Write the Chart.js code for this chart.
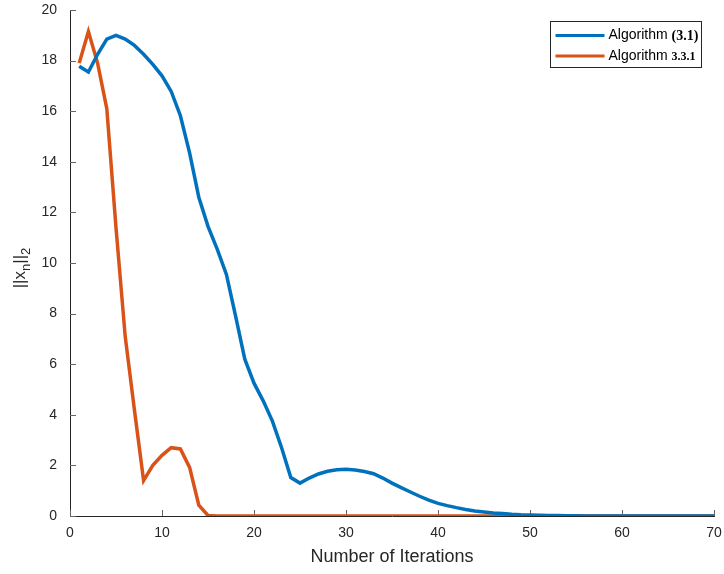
<!DOCTYPE html>
<html>
<head>
<meta charset="utf-8">
<script src="https://cdn.jsdelivr.net/npm/chart.js@4.4.0/dist/chart.umd.min.js"></script>
<style>
  html, body { margin: 0; padding: 0; background: #fff; }
</style>
</head>
<body>
<canvas id="chart" width="724" height="574"></canvas>
<script>
// iteration numbers (x axis)
const iterations = [1, 2, 3, 4, 5, 6, 7, 8, 9, 10, 11, 12, 13, 14, 15, 16, 17, 18, 19, 20,
    21, 22, 23, 24, 25, 26, 27, 28, 29, 30, 31, 32, 33, 34, 35, 36, 37, 38, 39, 40,
    41, 42, 43, 44, 45, 46, 47, 48, 49, 50, 51, 52, 53, 54, 55, 56, 57, 58, 59, 60,
    61, 62, 63, 64, 65, 66, 67, 68, 69, 70];

// ||x_n||_2 for Algorithm (3.1)
const alg31 = [17.78, 17.55, 18.25, 18.85, 19.0, 18.85, 18.6, 18.25, 17.85, 17.4,
    16.78, 15.82, 14.35, 12.6, 11.45, 10.55, 9.55, 7.9, 6.2, 5.25,
    4.55, 3.75, 2.7, 1.52, 1.3, 1.5, 1.66, 1.77, 1.83, 1.85,
    1.82, 1.76, 1.67, 1.5, 1.3, 1.12, 0.95, 0.78, 0.63, 0.5,
    0.41, 0.33, 0.26, 0.2, 0.16, 0.12, 0.1, 0.07, 0.05, 0.04,
    0.03, 0.02, 0.02, 0.01, 0.01, 0, 0, 0, 0, 0,
    0, 0, 0, 0, 0, 0, 0, 0, 0, 0];

// ||x_n||_2 for Algorithm 3.3.1
const alg331 = [17.9, 19.15, 17.9, 16.1, 11.4, 7.1, 4.2, 1.4, 2.0, 2.4,
    2.7, 2.65, 1.92, 0.43, 0.02, 0, 0, 0, 0, 0,
    0, 0, 0, 0, 0, 0, 0, 0, 0, 0,
    0, 0, 0, 0, 0, 0, 0, 0, 0, 0,
    0, 0, 0, 0, 0, 0, 0, 0, 0, 0,
    0, 0, 0, 0, 0, 0, 0, 0, 0, 0,
    0, 0, 0, 0, 0, 0, 0, 0, 0, 0];

const seriesNames = ['Algorithm ', 'Algorithm '];
const seriesTags = ['(3.1)', '3.3.1'];
const seriesColors = ['#0072BD', '#D95319'];

const xTicks = [0, 10, 20, 30, 40, 50, 60, 70];
const yTicks = [0, 2, 4, 6, 8, 10, 12, 14, 16, 18, 20];

const axisColor = '#262626';
const fontFamily = '"Liberation Sans", Arial, sans-serif';

// ticks pointing into the plot, like matlab
const inwardTicks = {
    id: 'inwardTicks',
    beforeDatasetsDraw(chart) {
        const ctx = chart.ctx;
        const area = chart.chartArea;
        const xs = chart.scales.x;
        const ys = chart.scales.y;
        ctx.save();
        ctx.strokeStyle = '#666';
        ctx.lineWidth = 1;
        ctx.beginPath();
        xTicks.forEach((v) => {
            const px = Math.round(xs.getPixelForValue(v)) + 0.5;
            ctx.moveTo(px, area.bottom);
            ctx.lineTo(px, area.bottom - 6);
        });
        yTicks.forEach((v) => {
            const py = Math.round(ys.getPixelForValue(v)) + 0.5;
            ctx.moveTo(area.left, py);
            ctx.lineTo(area.left + 6, py);
        });
        ctx.stroke();
        ctx.restore();
    }
};

// y title with subscripts and the legend with mixed fonts
const extras = {
    id: 'extras',
    afterDraw(chart) {
        const ctx = chart.ctx;

        // ||x_n||_2
        ctx.save();
        ctx.translate(20, 268);
        ctx.rotate(-Math.PI / 2);
        ctx.fillStyle = axisColor;
        ctx.textBaseline = 'middle';
        const parts = [
            { t: '||x', size: 17, dy: 0 },
            { t: 'n', size: 13, dy: 6 },
            { t: '||', size: 17, dy: 0 },
            { t: '2', size: 13, dy: 6 }
        ];
        let total = 0;
        parts.forEach((p) => {
            ctx.font = p.size + 'px ' + fontFamily;
            p.w = ctx.measureText(p.t).width;
            total += p.w;
        });
        let cx = -total / 2;
        parts.forEach((p) => {
            ctx.font = p.size + 'px ' + fontFamily;
            ctx.fillText(p.t, cx, p.dy);
            cx += p.w;
        });
        ctx.restore();

        // legend
        const box = { x: 550.5, y: 21.5, w: 151, h: 46 };
        ctx.save();
        ctx.fillStyle = '#fff';
        ctx.fillRect(box.x, box.y, box.w, box.h);
        ctx.strokeStyle = axisColor;
        ctx.lineWidth = 1;
        ctx.strokeRect(box.x, box.y, box.w, box.h);
        chart.data.datasets.forEach((ds, i) => {
            const y = box.y + 14 + i * 20.5;
            ctx.strokeStyle = ds.borderColor;
            ctx.lineWidth = 3;
            ctx.beginPath();
            ctx.moveTo(box.x + 5, y);
            ctx.lineTo(box.x + 54, y);
            ctx.stroke();
            ctx.fillStyle = '#000';
            ctx.textBaseline = 'middle';
            ctx.font = '14px ' + fontFamily;
            ctx.fillText(seriesNames[i], box.x + 58, y);
            const w = ctx.measureText(seriesNames[i]).width;
            ctx.font = 'bold ' + (i === 0 ? 14 : 12) + 'px "Liberation Serif", "Times New Roman", serif';
            ctx.fillText(seriesTags[i], box.x + 58 + w, y + 1);
        });
        ctx.restore();
    }
};

const ctx = document.getElementById('chart').getContext('2d');
const myChart = new Chart(ctx, {
    type: 'line',
    data: {
        labels: iterations,
        datasets: [{
            label: 'Algorithm (3.1)',
            data: alg31,
            borderColor: seriesColors[0],
            borderWidth: 3.5,
            pointRadius: 0,
            tension: 0,
            fill: false
        }, {
            label: 'Algorithm 3.3.1',
            data: alg331,
            borderColor: seriesColors[1],
            borderWidth: 3.5,
            pointRadius: 0,
            tension: 0,
            fill: false
        }]
    },
    options: {
        responsive: false,
        animation: false,
        layout: { padding: { top: 10, right: 10, left: 0, bottom: 0 } },
        plugins: {
            legend: { display: false },
            tooltip: { enabled: false }
        },
        scales: {
            x: {
                type: 'linear',
                min: 0,
                max: 70,
                afterBuildTicks: (scale) => { scale.ticks = xTicks.map((v) => ({ value: v })); },
                afterFit: (scale) => {
                    scale.height = 58;
                    scale.paddingLeft = 0;
                    scale.paddingRight = 0;
                },
                grid: { display: true, drawOnChartArea: false, drawTicks: false },
                border: { display: true, color: axisColor, width: 1 },
                ticks: { padding: 9, color: axisColor, font: { family: fontFamily, size: 14 }, maxRotation: 0 },
                title: {
                    display: true,
                    text: 'Number of Iterations',
                    color: axisColor,
                    font: { family: fontFamily, size: 18 },
                    padding: { top: 0, bottom: 6 }
                }
            },
            y: {
                min: 0,
                max: 20,
                afterBuildTicks: (scale) => { scale.ticks = yTicks.map((v) => ({ value: v })); },
                afterFit: (scale) => {
                    scale.width = 70;
                    scale.paddingTop = 0;
                    scale.paddingBottom = 0;
                },
                grid: { display: true, drawOnChartArea: false, drawTicks: false },
                border: { display: true, color: axisColor, width: 1 },
                ticks: { padding: 13, color: axisColor, font: { family: fontFamily, size: 14 } }
            }
        }
    },
    plugins: [inwardTicks, extras]
});

myChart.render();
</script>
</body>
</html>
